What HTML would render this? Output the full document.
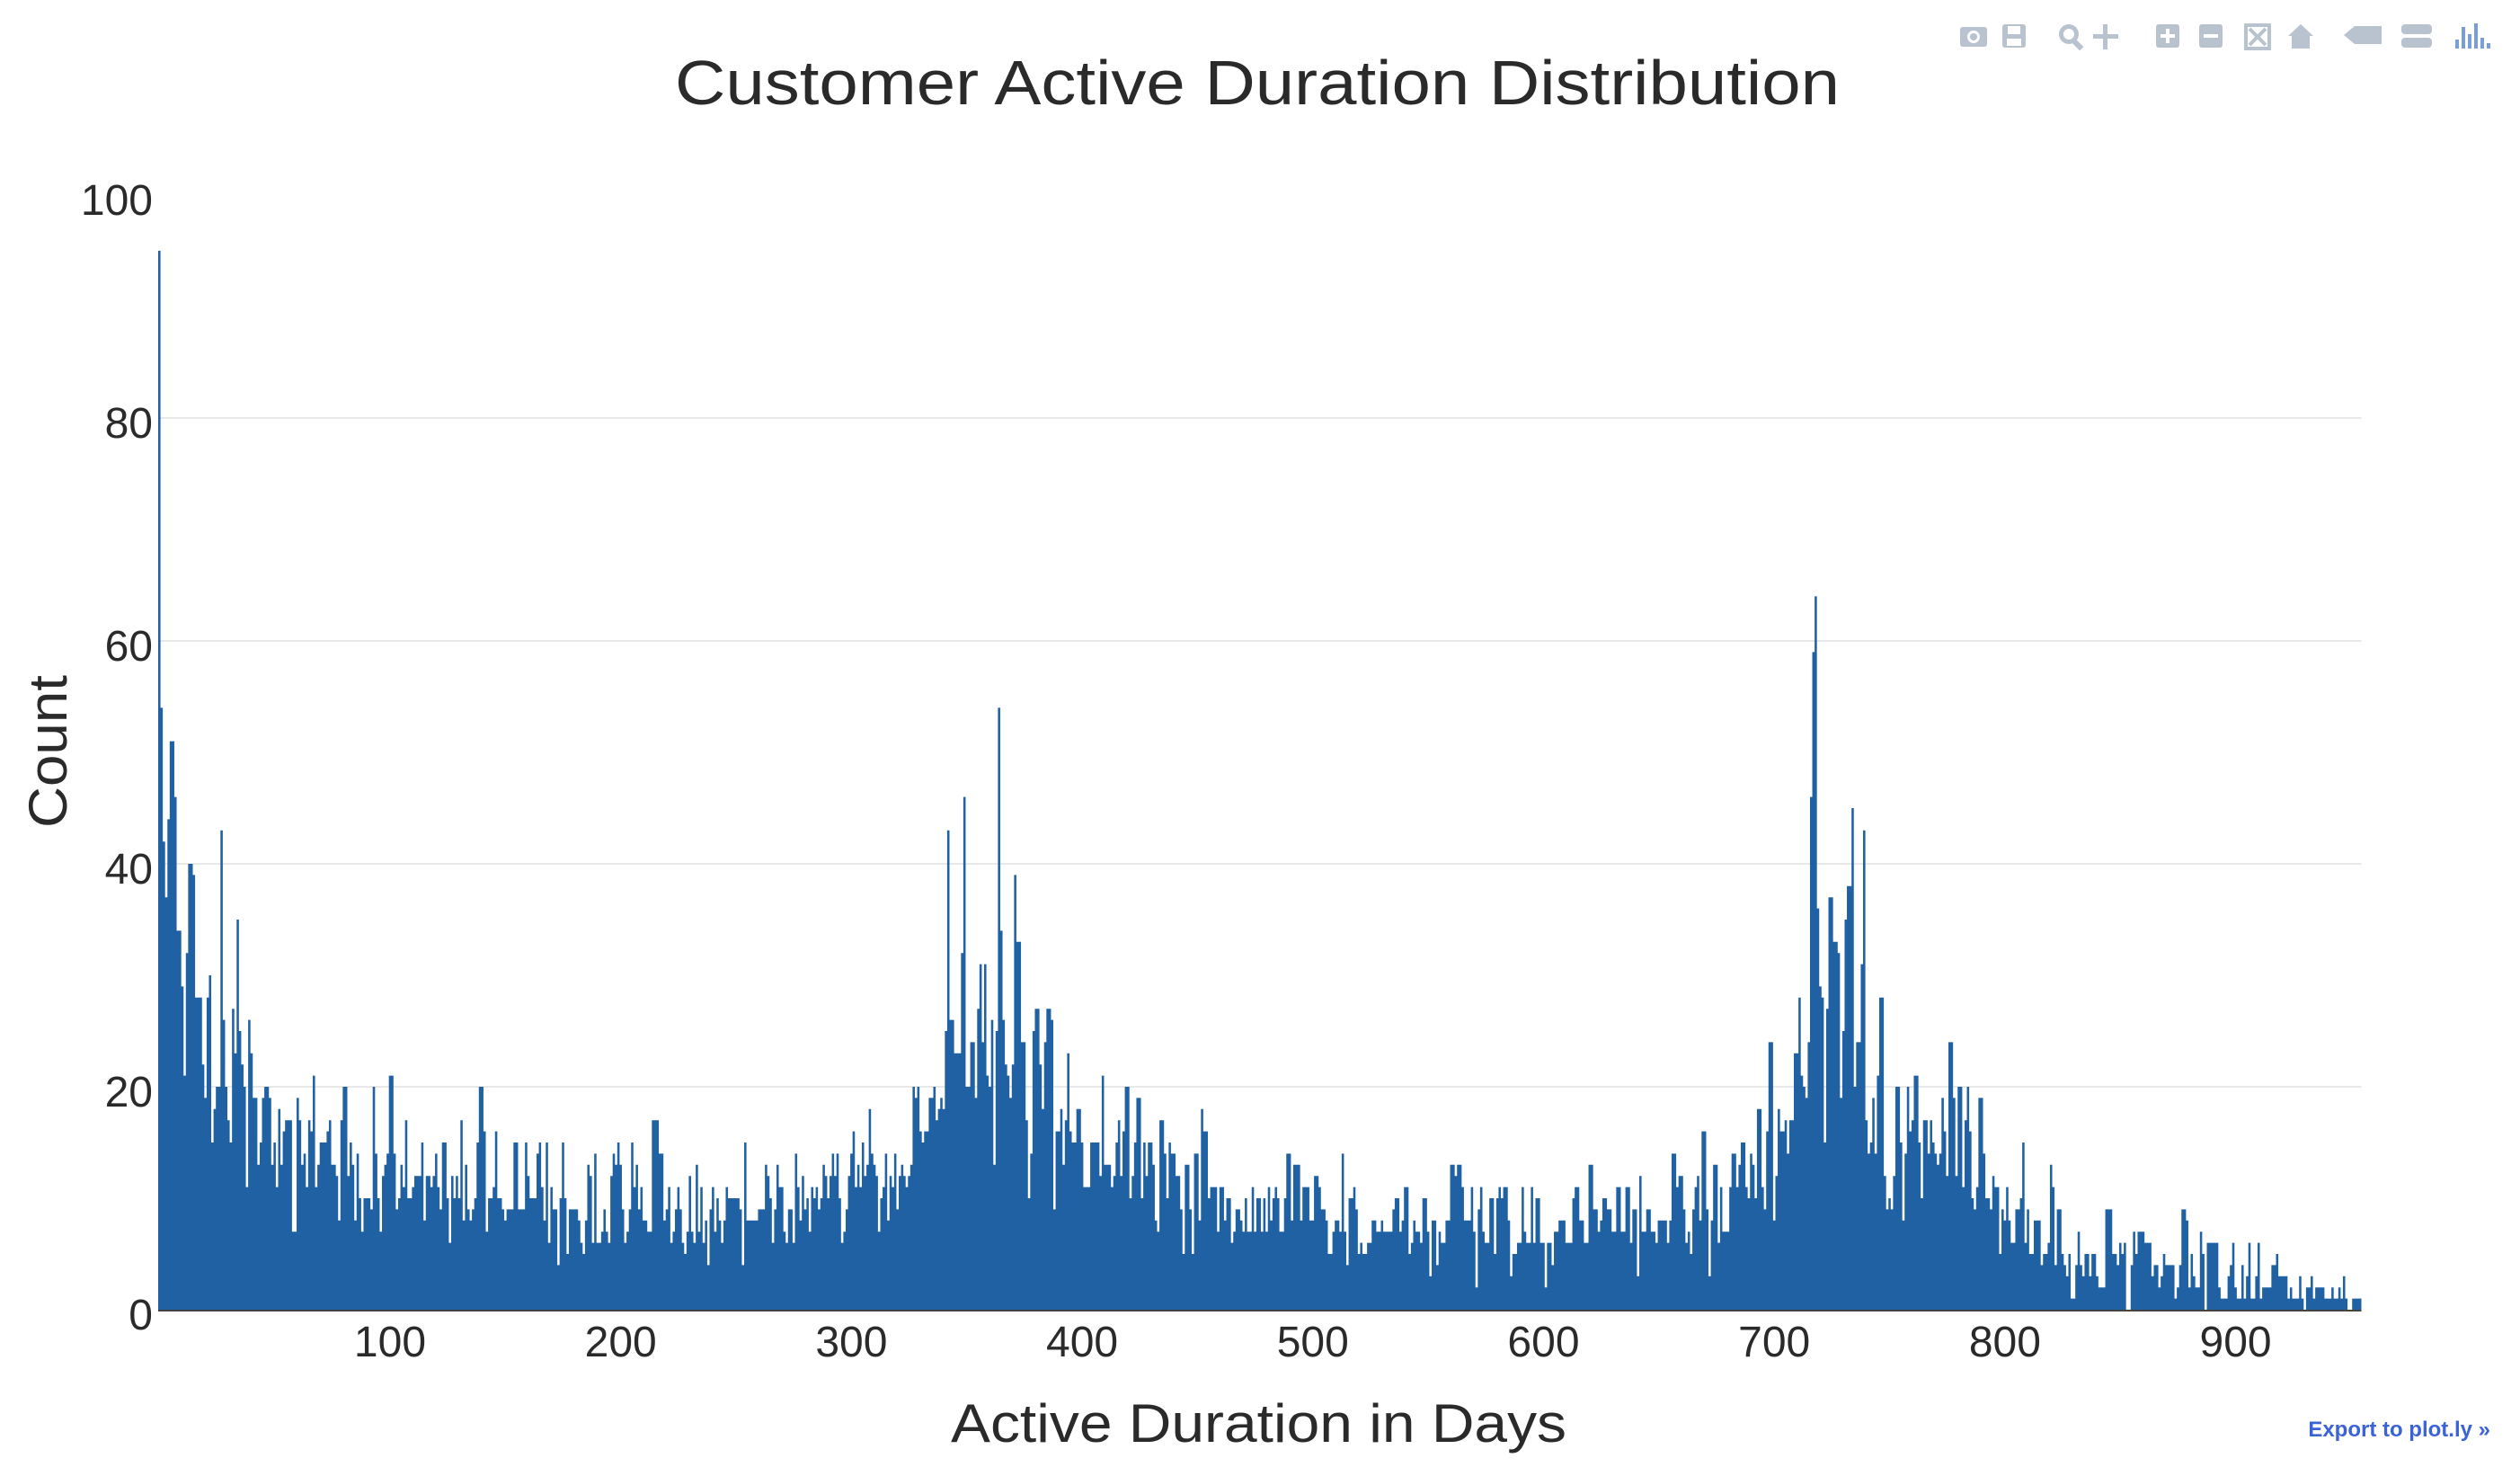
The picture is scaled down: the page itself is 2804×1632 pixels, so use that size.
<!DOCTYPE html>
<html><head><meta charset="utf-8">
<style>
html,body{margin:0;padding:0;background:#fff;}
svg{display:block;font-family:"Liberation Sans",sans-serif;}
</style></head>
<body>
<svg id="chart" width="2804" height="1632" viewBox="0 0 2804 1632" xmlns="http://www.w3.org/2000/svg">
  <rect x="0" y="0" width="2804" height="1632" fill="#fff"/>
  <g id="grid"></g>
  <g id="bars"></g>
  <line id="xaxisline" stroke="#444" stroke-width="2"/>
  <g id="xticks" font-size="48" fill="#2a2a2a" text-anchor="middle"></g>
  <g id="yticks" font-size="48" fill="#2a2a2a" text-anchor="end"></g>
  <text x="751" y="116" font-size="70" fill="#2a2a2a" textLength="1296" lengthAdjust="spacingAndGlyphs">Customer Active Duration Distribution</text>
  <text x="1058" y="1604" font-size="60" fill="#2a2a2a" textLength="685" lengthAdjust="spacingAndGlyphs">Active Duration in Days</text>
  <text transform="translate(74,921) rotate(-90)" font-size="60" fill="#2a2a2a" textLength="170" lengthAdjust="spacingAndGlyphs">Count</text>
  <g fill="#b9c2cf">
    <g><rect x="2181" y="30" width="30" height="22" rx="3"/><circle cx="2196" cy="41" r="7" fill="#fff"/><circle cx="2196" cy="41" r="4"/></g>
    <g><rect x="2228" y="27" width="26" height="26" rx="3"/><rect x="2234" y="29" width="14" height="9" fill="#fff"/><rect x="2233" y="43" width="16" height="8" fill="#fff"/></g>
    <g><circle cx="2302" cy="38" r="11"/><circle cx="2302" cy="38" r="6" fill="#fff"/><rect x="2309" y="44" width="6" height="12" transform="rotate(-45 2312 50)"/></g>
    <g><rect x="2340" y="27" width="5" height="28"/><rect x="2329" y="38" width="28" height="5"/></g>
    <g><rect x="2399" y="27" width="26" height="26" rx="3"/><rect x="2404" y="38" width="16" height="4" fill="#fff"/><rect x="2410" y="32" width="4" height="16" fill="#fff"/></g>
    <g><rect x="2447" y="27" width="26" height="26" rx="3"/><rect x="2452" y="38" width="16" height="4" fill="#fff"/></g>
    <g fill="none" stroke="#b9c2cf" stroke-width="4"><rect x="2499" y="28" width="26" height="26"/><line x1="2503" y1="32" x2="2521" y2="50"/><line x1="2521" y1="32" x2="2503" y2="50"/></g>
    <g><polygon points="2560,27 2574,40 2570,40 2570,54 2550,54 2550,40 2546,40"/></g>
    <g><polygon points="2608,39 2620,29 2650,29 2650,49 2620,49"/></g>
    <g><rect x="2672" y="27" width="34" height="11" rx="4"/><rect x="2672" y="42" width="34" height="11" rx="4"/></g>
    <g fill="#7a9fd8"><rect x="2732" y="44" width="4" height="10"/><rect x="2739" y="30" width="4" height="24"/><rect x="2746" y="38" width="4" height="16"/><rect x="2753" y="26" width="4" height="28"/><rect x="2760" y="42" width="4" height="12"/><rect x="2767" y="48" width="4" height="6"/></g>
  </g>
  <text x="2771" y="1598" font-size="24" font-weight="bold" fill="#3b62d6" text-anchor="end">Export to plot.ly »</text>
</svg>
<script>
const counts = [
95,54,42,37,44,51,51,46,34,34,29,21,32,40,40,39,28,28,28,22,19,28,30,15,18,20,20,43,26,20,17,15,27,23,35,25,22,20,11,26,23,19,19,13,15,19,20,20,19,13,15,11,18,13,16,17,17,17,7,7,19,17,13,14,11,17,16,21,11,13,15,15,15,16,17,13,13,12,8,17,20,20,12,15,13,8,14,10,7,10,10,10,9,20,14,10,7,12,13,14,21,21,14,9,10,13,11,17,10,10,11,12,12,12,15,8,12,12,11,12,14,11,9,15,15,10,6,12,10,12,10,17,8,13,9,8,9,10,15,20,20,16,7,10,10,11,16,10,10,9,8,9,9,9,15,15,9,
9,9,15,12,10,10,10,14,15,11,8,15,6,11,9,9,4,10,15,10,5,9,9,9,9,8,6,5,8,13,12,6,14,6,6,7,9,7,6,12,14,13,15,13,9,6,7,9,15,11,13,9,11,8,8,7,7,17,17,17,14,14,8,9,11,6,7,9,11,9,6,5,7,12,7,6,13,7,11,6,8,4,9,11,7,10,8,6,8,11,10,10,10,10,10,9,4,15,8,8,8,8,8,9,9,9,13,12,10,6,9,13,11,11,7,6,9,9,6,14,11,8,12,9,10,7,11,10,11,9,10,13,12,10,12,14,12,14,10,6,7,9,12,14,16,11,13,11,15,12,13,18,14,13,12,7,10,11,14,8,12,11,14,9,
12,13,12,11,12,13,20,19,20,16,15,16,16,19,19,20,17,18,19,18,25,43,26,26,23,23,23,32,46,20,20,24,24,19,27,31,24,31,21,20,26,13,25,54,34,26,22,21,19,22,39,33,33,24,24,17,10,14,25,27,27,22,18,24,27,27,26,9,16,16,18,13,17,23,16,15,15,18,18,15,11,11,11,15,15,15,15,12,21,13,13,13,11,12,15,17,12,16,20,20,10,12,15,19,19,10,15,12,15,15,13,8,7,17,17,14,10,15,14,14,12,12,9,5,13,13,9,5,14,14,8,18,16,16,10,11,11,11,7,11,11,8,10,10,6,7,9,9,8,7,10,7,7,11,7,10,10,7,10,7,
11,8,10,11,10,7,7,10,14,14,8,13,13,13,8,11,11,11,8,8,12,12,11,9,9,8,5,5,7,8,8,7,14,7,4,10,10,11,9,5,6,5,5,6,6,8,8,7,7,8,7,7,7,7,9,10,10,7,8,11,11,5,6,8,7,7,6,10,10,7,3,8,8,4,7,6,6,8,8,13,13,12,13,13,11,8,8,8,11,7,2,9,11,7,6,6,10,10,5,10,11,10,11,11,8,3,5,5,6,6,11,7,6,6,11,6,10,10,6,6,2,6,6,4,7,7,8,8,8,6,6,6,10,11,11,8,8,6,6,13,13,9,9,7,8,10,10,9,9,7,7,11,11,7,7,11,11,6,9,9,3,
12,7,7,9,9,7,7,6,8,8,8,8,6,8,14,14,11,12,12,9,6,7,5,9,11,12,8,16,16,9,3,8,13,13,6,11,7,7,7,11,14,14,11,13,15,15,11,10,14,13,10,18,18,11,9,16,24,24,8,12,18,16,16,17,14,17,17,23,23,28,21,20,19,24,46,59,
64,36,29,28,15,27,37,37,33,33,32,19,25,35,38,38,45,20,24,24,31,43,17,14,15,19,14,21,28,28,12,9,10,9,12,20,20,15,8,14,20,16,17,21,21,15,10,17,17,14,17,15,14,13,14,19,16,12,24,24,19,12,20,20,11,17,20,16,10,9,11,19,19,14,10,10,9,12,11,11,5,9,8,
11,8,6,6,9,9,10,15,6,9,5,5,8,8,8,4,5,5,6,13,11,4,9,9,5,4,3,5,1,1,4,7,4,3,5,5,3,5,5,3,2,2,2,9,9,9,5,5,4,6,5,6,0,0,4,7,5,7,7,7,6,6,6,3,4,4,2,3,5,4,4,4,4,1,2,4,9,9,8,2,5,3,2,2,7,5,0,6,6,6,6,6,2,1,1,1,3,4,6,2,1,1,4,1,3,6,1,1,3,6,1,2,2,2,2,4,4,5,3,3,3,3,1,2,1,1,1,3,1,0,2,2,3,1,2,2,2,2,1,1,1,2,1,1,2,1,3,1,0,0,1,1,1,1
];
const xTickValues = [100,200,300,400,500,600,700,800,900];
const yTickValues = [0,20,40,60,80,100];
const gridValues = [20,40,60,80];

const NS = "http://www.w3.org/2000/svg";
const X0 = 176, PXPERDAY = 2.567;
const Y0 = 1457, PXPERUNIT = 12.4;
function xScale(v){ return X0 + (v + 0.5) * PXPERDAY; }
function yScale(v){ return Y0 - v * PXPERUNIT; }
const xEnd = xScale(counts.length - 0.5);

const grid = document.getElementById('grid');
gridValues.forEach(v => {
  const l = document.createElementNS(NS,'line');
  l.setAttribute('x1', X0); l.setAttribute('x2', xEnd);
  l.setAttribute('y1', yScale(v)); l.setAttribute('y2', yScale(v));
  l.setAttribute('stroke', '#e8e8e8'); l.setAttribute('stroke-width', '2');
  
  
  grid.appendChild(l);
});

const bars = document.getElementById('bars');
let d = '';
counts.forEach((c, i) => {
  if (c <= 0) return;
  const x1 = xScale(i - 0.5), x2 = xScale(i + 0.5);
  d += 'M' + x1.toFixed(2) + ' ' + Y0 + 'V' + yScale(c).toFixed(2) + 'H' + x2.toFixed(2) + 'V' + Y0 + 'Z';
});
const p = document.createElementNS(NS,'path');
p.setAttribute('d', d);
p.setAttribute('fill', '#1f61a2');


bars.appendChild(p);

const ax = document.getElementById('xaxisline');
ax.setAttribute('x1', X0); ax.setAttribute('x2', xEnd);
ax.setAttribute('y1', Y0 + 1); ax.setAttribute('y2', Y0 + 1);

const xt = document.getElementById('xticks');
xTickValues.forEach(v => {
  const t = document.createElementNS(NS,'text');
  t.setAttribute('x', xScale(v)); t.setAttribute('y', 1509);
  t.textContent = String(v);
  
  
  xt.appendChild(t);
});
const yt = document.getElementById('yticks');
yTickValues.forEach(v => {
  const t = document.createElementNS(NS,'text');
  t.setAttribute('x', 170); t.setAttribute('y', yScale(v) + 22);
  t.textContent = String(v);
  
  
  yt.appendChild(t);
});
</script>
</body></html>
